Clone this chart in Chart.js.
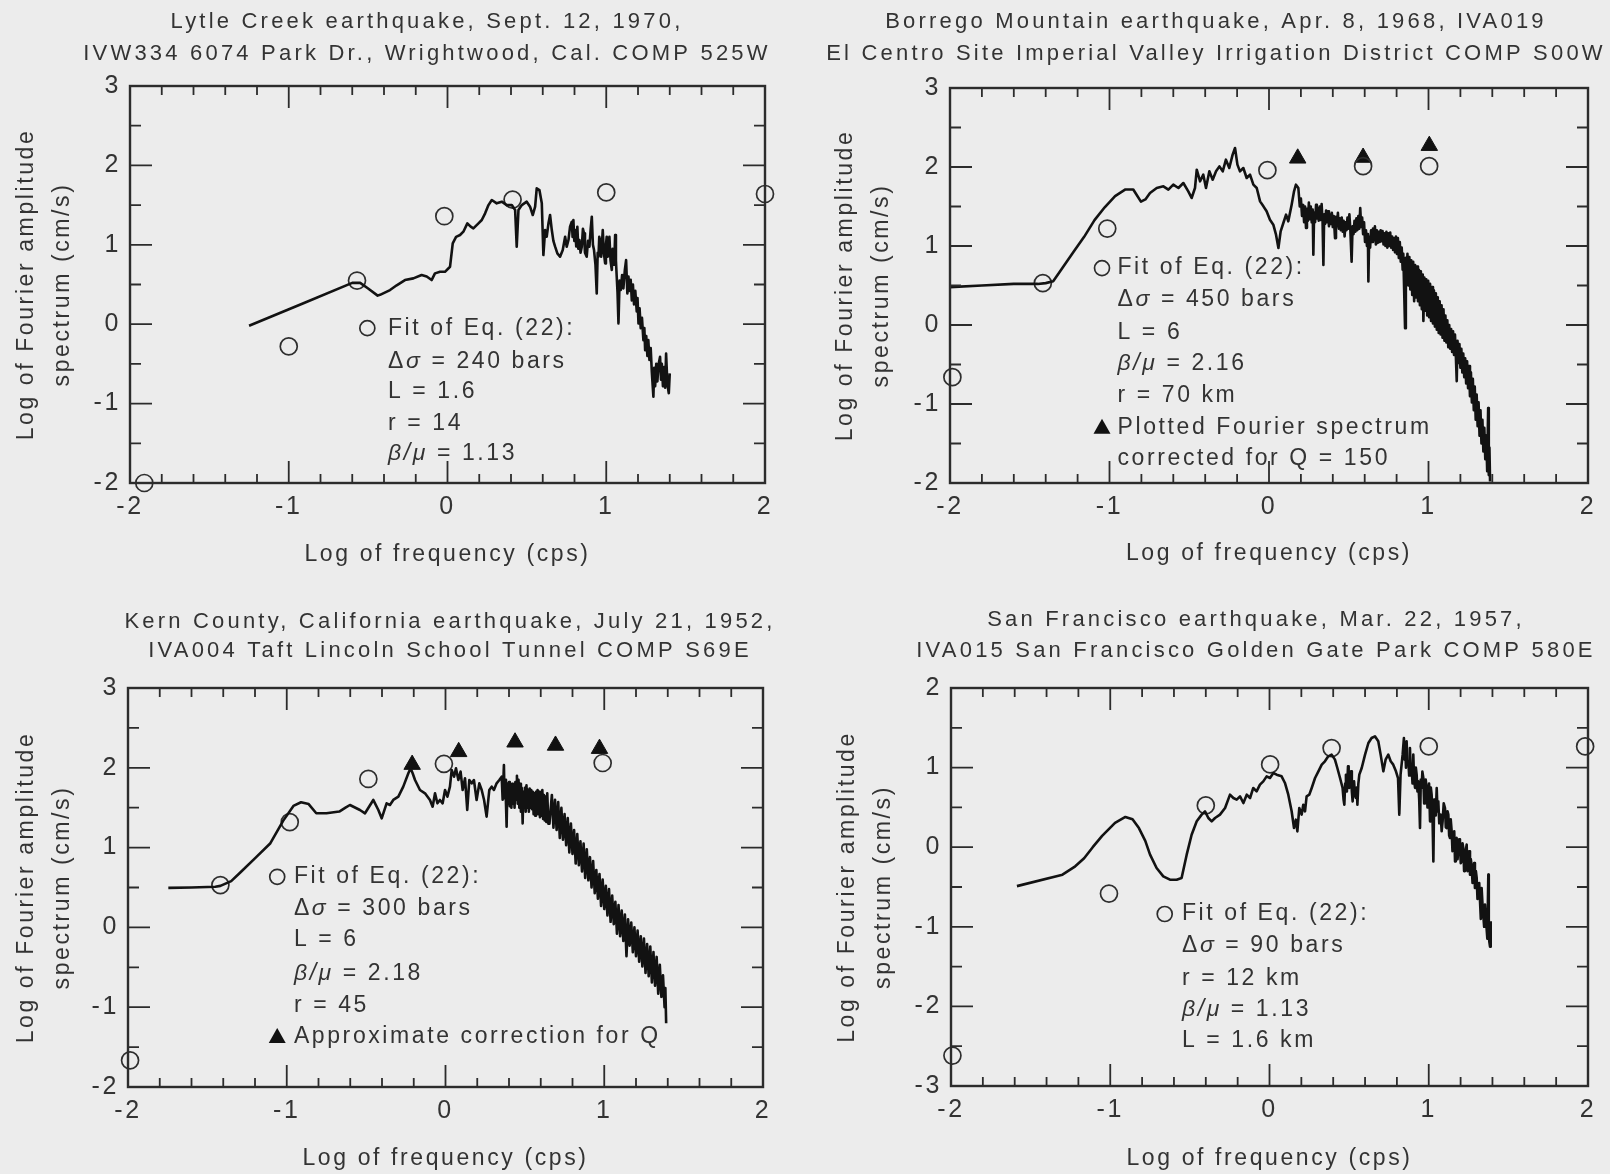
<!DOCTYPE html>
<html>
<head>
<meta charset="utf-8">
<script src="https://cdn.jsdelivr.net/npm/chart.js@4.4.0/dist/chart.umd.min.js"></script>
<style>
  html, body { margin: 0; padding: 0; background: #ececec; }
  #sheet { position: relative; width: 1610px; height: 1174px; overflow: hidden; }
  #sheet canvas { position: absolute; }
</style>
</head>
<body>
<div id="sheet">
  <canvas id="lytle" width="805" height="587" style="left:0;top:0"></canvas>
  <canvas id="borrego" width="805" height="587" style="left:805px;top:0"></canvas>
  <canvas id="kern" width="805" height="587" style="left:0;top:587px"></canvas>
  <canvas id="sanFrancisco" width="805" height="587" style="left:805px;top:587px"></canvas>
</div>
<script>
// log frequency (cps) vs log Fourier amplitude (cm/s)
const freqTicks = [-2, 2];

// --- Lytle Creek 1970 ---
const lytleSpectrum = [
  [-1.25,-0.02],[-0.9,0.27],[-0.6,0.52],[-0.55,0.52],[-0.5,0.45],[-0.44,0.36],
  [-0.425,0.37],[-0.362,0.43],[-0.32,0.49],[-0.268,0.556],[-0.215,0.577],[-0.163,0.62],[-0.131,0.6],[-0.1,0.556],
  [-0.079,0.64],[-0.047,0.66],[-0.016,0.66],[0.016,0.724],[0.033,1.018],[0.054,1.1],[0.079,1.123],[0.1,1.165],
  [0.125,1.27],[0.146,1.228],[0.163,1.207],[0.195,1.27],[0.216,1.312],[0.237,1.396],[0.258,1.5],[0.279,1.564],
  [0.31,1.522],[0.342,1.543],[0.373,1.5],[0.405,1.5],[0.426,1.438],[0.436,0.976],[0.447,1.438],[0.468,1.5],
  [0.499,1.543],[0.52,1.48],[0.537,1.375],[0.552,1.48],[0.562,1.711],[0.579,1.69],[0.594,1.522],[0.604,0.871],
  [0.615,1.186],[0.625,1.102],[0.636,1.27],[0.646,1.375],[0.657,1.186],[0.667,1.05],[0.678,0.976],[0.692,0.892],
  [0.709,0.85],[0.726,0.934],[0.741,1.102],[0.751,0.976],[0.762,1.06],[0.772,1.228],[0.783,1.29],[0.788,1.1],
  [0.793,1.312],[0.799,1.05],[0.804,1.186],[0.811,0.98],[0.818,1.228],[0.824,0.95],[0.831,1.06],[0.838,0.9],
  [0.846,0.976],[0.853,1.2],[0.86,1.144],[0.866,0.9],[0.877,0.85],[0.885,1.05],[0.894,0.976],[0.902,1.2],
  [0.909,1.354],[0.916,1.0],[0.923,0.934],[0.932,0.75],[0.94,0.388],[0.946,0.9],[0.951,0.85],[0.956,1.1],
  [0.961,1.06],[0.968,0.85],[0.978,1.186],[0.985,0.9],[0.993,0.766],[0.998,1.0],[1.003,1.102],[1.01,0.85],
  [1.02,1.102],[1.027,0.8],[1.035,0.682],[1.04,0.95],[1.045,0.934],[1.05,0.75],[1.056,1.123],[1.061,0.8],
  [1.066,0.598],[1.071,0.4],[1.077,0.01],[1.084,0.55],[1.091,0.43],[1.1,0.62],[1.108,0.45],[1.117,0.68],
  [1.125,0.808],[1.133,0.388],[1.14,0.6],[1.146,0.42],[1.154,0.56],[1.161,0.3],[1.168,0.5],[1.175,0.25],
  [1.183,0.42],[1.192,0.16],[1.197,0.33],[1.203,0.01],[1.21,0.2],[1.217,-0.05],[1.225,0.08],[1.234,-0.2],
  [1.24,-0.05],[1.245,-0.326],[1.252,-0.15],[1.259,-0.4],[1.265,-0.2],[1.272,-0.45],[1.28,-0.3],[1.287,-0.6],
  [1.297,-0.914],[1.302,-0.55],[1.308,-0.78],[1.315,-0.5],[1.322,-0.72],[1.33,-0.5],[1.339,-0.41],[1.345,-0.7],
  [1.35,-0.5],[1.357,-0.78],[1.364,-0.54],[1.371,-0.8],[1.377,-0.37],[1.385,-0.75],[1.394,-0.87],[1.4,-0.62]
];
const lytleFit = [[-1.91,-2.0],[-1.0,-0.28],[-0.57,0.55],[-0.02,1.36],[0.41,1.57],[1.0,1.66],[2.0,1.64]];

// --- Borrego Mountain 1968 ---
const borregoSpectrum = [
  [-2.0,0.48],[-1.8,0.5],[-1.6,0.52],[-1.45,0.52],[-1.4,0.53],[-1.353,0.554],[-1.289,0.74],[-1.224,0.929],
  [-1.159,1.116],[-1.094,1.327],[-1.03,1.49],[-0.965,1.632],[-0.9,1.716],[-0.851,1.716],[-0.803,1.561],[-0.775,1.59],
  [-0.746,1.671],[-0.704,1.734],[-0.662,1.755],[-0.631,1.713],[-0.6,1.776],[-0.568,1.734],[-0.537,1.797],[-0.506,1.692],
  [-0.485,1.608],[-0.464,1.734],[-0.453,1.966],[-0.432,1.819],[-0.412,1.903],[-0.395,1.734],[-0.374,1.945],[-0.353,1.84],
  [-0.332,1.945],[-0.311,2.008],[-0.29,1.945],[-0.27,2.093],[-0.249,1.987],[-0.228,2.156],[-0.213,2.24],[-0.198,2.03],
  [-0.182,1.945],[-0.161,1.987],[-0.14,1.861],[-0.119,1.903],[-0.098,1.776],[-0.077,1.734],[-0.056,1.565],[-0.035,1.502],
  [-0.015,1.439],[0.006,1.333],[0.027,1.27],[0.044,1.143],[0.059,0.975],[0.073,1.186],[0.09,1.291],[0.107,1.397],
  [0.121,1.312],[0.142,1.523],[0.157,1.692],[0.169,1.776],[0.184,1.734],[0.193,1.5],
  [0.2,1.6],[0.207,1.38],[0.214,1.52],[0.22,1.3],[0.226,1.5],[0.232,1.23],[0.238,1.47],[0.244,1.32],
  [0.25,1.55],[0.256,1.34],[0.262,1.5],[0.268,1.3],[0.274,1.46],[0.278,0.89],[0.283,1.42],[0.289,1.3],
  [0.295,1.52],[0.3,1.35],[0.306,1.48],[0.312,1.32],[0.318,1.5],[0.324,1.33],[0.33,1.53],[0.336,1.3],
  [0.341,0.76],[0.346,1.4],[0.352,1.28],[0.358,1.45],[0.364,1.3],[0.37,1.44],[0.376,1.25],[0.382,1.4],
  [0.388,1.28],[0.394,1.42],[0.4,1.24],[0.406,1.38],[0.414,1.1],[0.42,1.37],[0.426,1.25],[0.432,1.42],
  [0.438,1.22],[0.444,1.35],[0.45,1.2],[0.456,1.36],[0.462,1.18],[0.468,1.32],[0.474,1.12],[0.48,1.3],
  [0.486,1.2],[0.492,1.36],[0.498,1.22],[0.504,1.4],[0.51,1.2],[0.518,0.8],[0.524,1.25],[0.53,1.15],
  [0.536,1.32],[0.542,1.18],[0.548,1.35],[0.554,1.2],[0.56,1.38],[0.566,1.22],[0.572,1.48],[0.578,1.24],
  [0.584,1.36],[0.59,1.15],[0.596,1.3],[0.602,1.05],[0.608,1.2],[0.614,1.0],[0.62,1.15],[0.623,0.55],
  [0.628,1.12],[0.634,0.98],[0.64,1.2],[0.646,1.05],[0.652,1.22],[0.658,1.08],[0.664,1.25],[0.67,1.02],
  [0.676,1.2],[0.682,1.04],[0.688,1.18],[0.694,1.05],[0.7,1.2],[0.706,1.06],[0.712,1.19],[0.718,1.02],
  [0.724,1.16],[0.73,1.0],[0.736,1.18],[0.742,0.98],[0.748,1.16],[0.754,1.0],[0.76,1.17],[0.766,0.98],
  [0.772,1.12],[0.778,0.95],[0.784,1.1],[0.79,0.92],[0.796,1.12],[0.802,0.9],
  [0.808,1.1],[0.814,0.85],[0.82,1.05],[0.826,0.8],[0.832,0.98],[0.838,0.7],[0.842,0.9],[0.847,0.47],
  [0.853,-0.04],[0.858,0.85],[0.863,0.6],[0.868,0.9],[0.874,0.5],[0.88,0.86],[0.886,0.45],[0.892,0.82],
  [0.898,0.38],[0.904,0.8],[0.91,0.3],[0.916,0.76],[0.922,0.35],[0.928,0.74],[0.934,0.3],[0.94,0.7],
  [0.946,0.25],[0.952,0.68],[0.958,0.2],[0.964,0.64],[0.968,0.05],[0.974,0.6],[0.98,0.18],[0.986,0.58],
  [0.992,0.12],[0.998,0.56],[1.004,0.1],[1.01,0.52],[1.016,0.05],[1.022,0.48],[1.028,0.02],[1.034,0.44],
  [1.04,-0.02],[1.046,0.4],[1.052,-0.06],[1.058,0.35],[1.064,-0.1],[1.07,0.3],[1.076,-0.12],[1.082,0.25],
  [1.088,-0.16],[1.094,0.2],[1.1,-0.2],[1.106,0.12],[1.112,-0.22],[1.118,0.06],[1.124,-0.28],[1.13,0.0],
  [1.136,-0.3],[1.142,-0.05],[1.148,-0.34],[1.154,-0.08],[1.16,-0.38],[1.166,-0.12],[1.172,-0.42],[1.177,-0.71],
  [1.182,-0.2],[1.188,-0.48],[1.194,-0.24],[1.2,-0.54],[1.206,-0.3],[1.212,-0.6],[1.218,-0.36],[1.224,-0.66],
  [1.23,-0.42],[1.236,-0.74],[1.242,-0.46],[1.248,-0.8],[1.254,-0.52],[1.26,-0.9],[1.266,-0.6],[1.272,-0.98],
  [1.278,-0.68],[1.284,-1.08],[1.29,-0.78],[1.296,-1.2],[1.302,-0.88],[1.308,-1.28],[1.314,-0.98],[1.32,-1.4],
  [1.326,-1.08],[1.332,-1.5],[1.338,-1.2],[1.344,-1.6],[1.35,-1.3],[1.356,-1.7],[1.362,-1.4],[1.368,-1.85],
  [1.374,-1.05],[1.378,-1.9],[1.382,-1.55],[1.386,-1.98]
];
const borregoFit = [[-1.985,-0.66],[-1.418,0.53],[-1.014,1.22],[-0.01,1.96],[0.59,2.01],[1.004,2.01]];
const borregoCorrected = [[0.18,2.11],[0.59,2.12],[1.005,2.27]];

// --- Kern County 1952 ---
const kernSpectrum = [
  [-1.746,0.495],[-1.6,0.5],[-1.45,0.51],[-1.418,0.52],[-1.35,0.58],[-1.296,0.682],[-1.199,0.868],[-1.103,1.055],
  [-1.023,1.335],[-0.958,1.522],[-0.91,1.568],[-0.862,1.545],[-0.814,1.43],[-0.75,1.43],[-0.669,1.452],[-0.63,1.5],
  [-0.602,1.534],[-0.539,1.471],[-0.507,1.43],[-0.455,1.597],[-0.423,1.471],[-0.402,1.367],[-0.371,1.555],[-0.35,1.534],
  [-0.329,1.597],[-0.297,1.638],[-0.266,1.764],[-0.234,1.931],[-0.22,1.993],[-0.207,1.931],[-0.192,1.847],[-0.161,1.722],
  [-0.129,1.68],[-0.098,1.597],[-0.081,1.513],[-0.066,1.68],[-0.051,1.555],[-0.035,1.597],[-0.018,1.555],[-0.003,1.722],
  [0.012,1.638],[0.028,1.764],[0.039,1.973],[0.054,1.889],[0.066,1.993],[0.081,1.847],[0.095,1.952],[0.108,1.722],
  [0.123,1.868],[0.137,1.471],[0.15,1.847],[0.165,1.805],[0.179,1.847],[0.196,1.597],[0.213,1.805],[0.228,1.722],
  [0.243,1.597],[0.259,1.388],[0.276,1.722],[0.291,1.764],[0.305,1.722],[0.322,1.805],[0.339,1.847],
  [0.354,1.889],[0.36,1.6],[0.368,2.035],[0.372,1.62],[0.377,1.85],[0.381,1.55],[0.385,1.262],[0.39,1.8],
  [0.395,1.55],[0.4,1.82],[0.405,1.52],[0.41,1.78],[0.415,1.5],[0.42,1.8],[0.425,1.55],[0.43,1.75],
  [0.435,1.5],[0.44,1.82],[0.445,1.6],[0.45,1.9],[0.455,1.55],[0.46,1.85],[0.465,1.5],[0.47,1.8],
  [0.475,1.45],[0.48,1.75],[0.486,1.304],[0.49,1.7],[0.495,1.5],[0.5,1.75],[0.505,1.45],[0.51,1.78],
  [0.515,1.5],[0.52,1.72],[0.525,1.45],[0.53,1.74],[0.535,1.5],[0.54,1.72],[0.545,1.48],[0.55,1.7],
  [0.555,1.42],[0.56,1.68],[0.565,1.4],[0.57,1.7],[0.575,1.45],[0.58,1.72],[0.585,1.42],[0.59,1.7],
  [0.595,1.38],[0.6,1.68],[0.605,1.4],[0.61,1.72],[0.615,1.36],[0.62,1.66],[0.625,1.34],[0.63,1.64],
  [0.635,1.32],[0.641,1.68],[0.648,1.3],
  [0.655,1.3],[0.67,1.66],[0.68,1.25],[0.69,1.6],[0.7,1.22],[0.71,1.57],[0.72,1.12],[0.73,1.5],
  [0.74,1.1],[0.75,1.42],[0.76,1.03],[0.77,1.37],[0.78,0.94],[0.79,1.3],[0.8,0.92],[0.81,1.22],
  [0.82,0.8],[0.83,1.17],[0.84,0.78],[0.85,1.08],[0.86,0.7],[0.87,1.05],[0.88,0.62],[0.89,0.98],
  [0.9,0.59],[0.91,0.88],[0.92,0.5],[0.93,0.83],[0.94,0.43],[0.95,0.72],[0.96,0.36],[0.97,0.67],
  [0.98,0.27],[0.99,0.6],[1.0,0.23],[1.01,0.52],[1.02,0.15],[1.03,0.48],[1.04,0.07],[1.05,0.4],
  [1.06,0.04],[1.07,0.32],[1.08,-0.08],[1.09,0.28],[1.1,-0.11],[1.11,0.21],[1.12,-0.17],[1.13,0.16],
  [1.14,-0.36],[1.15,0.1],[1.16,-0.23],[1.17,0.06],[1.18,-0.31],[1.19,0.0],[1.2,-0.36],[1.21,-0.04],
  [1.22,-0.43],[1.23,-0.11],[1.24,-0.49],[1.25,-0.14],[1.26,-0.57],[1.27,-0.21],[1.28,-0.61],[1.29,-0.24],
  [1.3,-0.69],[1.31,-0.31],[1.32,-0.73],[1.33,-0.37],[1.34,-0.83],[1.35,-0.47],[1.36,-0.87],[1.37,-0.6],
  [1.38,-1.0],[1.385,-0.76],[1.39,-1.2]
];
const kernFit = [[-1.987,-1.666],[-1.418,0.53],[-0.981,1.32],[-0.486,1.86],[-0.01,2.05],[0.99,2.06]];
const kernCorrected = [[-0.21,2.04],[0.083,2.2],[0.438,2.32],[0.693,2.28],[0.97,2.24]];

// --- San Francisco 1957 ---
const sanFranciscoSpectrum = [
  [-1.586,-0.489],[-1.3,-0.345],[-1.22,-0.24],[-1.164,-0.138],[-1.11,0.0],[-1.051,0.143],[-0.97,0.306],[-0.905,0.38],
  [-0.86,0.35],[-0.82,0.24],[-0.78,0.08],[-0.75,-0.094],[-0.709,-0.261],[-0.667,-0.366],[-0.625,-0.408],[-0.583,-0.408],
  [-0.552,-0.387],[-0.52,-0.094],[-0.489,0.157],[-0.457,0.325],[-0.426,0.409],[-0.405,0.451],[-0.384,0.367],[-0.363,0.325],
  [-0.342,0.367],[-0.311,0.409],[-0.279,0.492],[-0.248,0.66],[-0.227,0.618],[-0.206,0.597],[-0.185,0.639],[-0.164,0.555],
  [-0.143,0.66],[-0.122,0.618],[-0.102,0.744],[-0.081,0.702],[-0.06,0.786],[-0.039,0.827],[-0.018,0.89],[0.003,0.869],
  [0.024,0.932],[0.045,0.911],[0.076,0.89],[0.097,0.807],[0.118,0.66],[0.139,0.451],[0.154,0.241],[0.166,0.346],
  [0.175,0.199],[0.187,0.492],[0.202,0.409],[0.212,0.534],[0.223,0.451],[0.233,0.639],[0.25,0.66],[0.265,0.744],
  [0.286,0.869],[0.307,0.953],[0.328,1.037],[0.348,1.079],[0.369,1.142],[0.39,1.163],[0.411,1.1],[0.426,0.995],
  [0.443,0.869],[0.459,0.744],[0.465,0.6],[0.47,0.534],[0.475,0.8],[0.48,0.911],[0.486,0.7],[0.493,1.016],
  [0.497,0.8],[0.501,0.744],[0.506,0.9],[0.512,0.953],[0.517,0.7],[0.522,0.576],[0.527,0.75],[0.531,0.827],
  [0.537,0.65],[0.543,0.618],[0.548,0.75],[0.552,0.534],[0.558,0.8],[0.564,0.911],[0.579,0.995],[0.6,1.163],
  [0.621,1.309],[0.641,1.372],[0.662,1.393],[0.683,1.33],[0.698,1.163],[0.715,0.953],[0.729,1.1],[0.746,1.163],
  [0.761,1.079],[0.777,1.037],[0.794,0.953],[0.807,0.869],[0.815,0.409],[0.823,0.911],[0.836,1.163],[0.844,1.372],
  [0.849,1.1],[0.853,1.204],[0.857,1.0],[0.861,1.33],[0.866,1.05],[0.872,1.079],[0.877,0.9],[0.882,1.246],
  [0.887,0.95],[0.893,0.995],[0.898,0.8],[0.903,1.163],[0.908,0.85],[0.914,0.744],[0.919,1.0],[0.924,0.911],
  [0.929,0.7],[0.934,0.827],[0.94,0.6],[0.945,0.241],[0.95,0.85],[0.955,0.744],[0.96,0.95],[0.966,0.869],
  [0.971,0.55],[0.976,0.618],[0.981,0.85],[0.987,0.744],[0.992,0.5],[0.997,0.66],[1.002,0.8],[1.008,0.325],
  [1.013,0.75],[1.018,0.66],[1.023,0.45],[1.029,-0.178],[1.034,0.6],[1.039,0.576],[1.044,0.4],[1.05,0.744],
  [1.055,0.45],[1.06,0.576],[1.066,0.3],[1.075,0.409],[1.081,0.2],[1.087,0.325],[1.094,0.55],[1.102,0.492],
  [1.107,0.25],[1.112,0.241],[1.118,0.45],[1.123,0.409],[1.128,0.15],[1.133,0.116],[1.138,0.35],[1.144,0.199],
  [1.149,-0.05],[1.154,0.032],[1.16,0.2],[1.165,-0.178],[1.17,0.1],[1.175,0.116],[1.181,-0.15],[1.186,-0.01],
  [1.191,0.1],[1.196,0.032],[1.201,-0.2],[1.206,-0.178],[1.212,0.05],[1.217,-0.01],[1.222,-0.3],[1.227,-0.261],
  [1.232,-0.05],[1.238,0.032],[1.243,-0.3],[1.248,-0.178],[1.254,-0.05],[1.259,-0.345],[1.264,-0.15],[1.269,-0.219],
  [1.275,-0.45],[1.28,-0.345],[1.285,-0.2],[1.29,-0.513],[1.296,-0.3],[1.301,-0.387],[1.306,-0.65],[1.311,-0.596],
  [1.317,-0.45],[1.322,-0.68],[1.327,-0.9],[1.332,-0.513],[1.337,-0.7],[1.342,-0.848],[1.348,-1.0],[1.353,-0.722],
  [1.358,-0.9],[1.363,-1.015],[1.368,-1.15],[1.374,-0.345],[1.377,-0.9],[1.38,-1.183],[1.385,-1.25],[1.389,-0.931]
];
const sanFranciscoFit = [[-1.991,-2.618],[-1.008,-0.583],[-0.4,0.525],[0.004,1.04],[0.39,1.245],[1.0,1.266],[1.982,1.266]];

const FONT = '"Liberation Sans", Arial, sans-serif';
const INK = '#333333';

Chart.defaults.font.family = FONT;
Chart.defaults.color = INK;

// frame with inward ticks on all four sides, titles and the fit notes
const sheetPlugin = {
  id: 'sheet',
  beforeLayout(chart) { chart.ctx.letterSpacing = '2.6px'; },
  beforeDraw(chart) { chart.ctx.letterSpacing = '2.6px'; },
  afterDraw(chart, args, opts) {
    const { ctx, chartArea: a, scales: { x, y } } = chart;
    ctx.save();
    ctx.strokeStyle = '#2c2c2c';
    ctx.lineWidth = 1.8;
    ctx.beginPath();
    const nx = Math.round((x.max - x.min) / 0.2);
    for (let i = 0; i <= nx; i++) {
      const px = x.getPixelForValue(x.min + i * 0.2);
      const len = i % 5 === 0 ? 22 : 9;
      ctx.moveTo(px, a.bottom); ctx.lineTo(px, a.bottom - len);
      ctx.moveTo(px, a.top); ctx.lineTo(px, a.top + len);
    }
    const ny = Math.round((y.max - y.min) / 0.5);
    for (let i = 0; i <= ny; i++) {
      const py = y.getPixelForValue(y.min + i * 0.5);
      const len = i % 2 === 0 ? 22 : 11;
      ctx.moveTo(a.left, py); ctx.lineTo(a.left + len, py);
      ctx.moveTo(a.right, py); ctx.lineTo(a.right - len, py);
    }
    ctx.stroke();
    ctx.lineWidth = 2.4;
    ctx.strokeRect(a.left, a.top, a.right - a.left, a.bottom - a.top);

    // two-line heading
    ctx.fillStyle = INK;
    ctx.textAlign = 'center';
    ctx.textBaseline = 'middle';
    ctx.letterSpacing = '3.2px';
    ctx.font = '22px ' + FONT;
    opts.title.forEach((t, i) => ctx.fillText(t, opts.titleX, opts.titleY[i]));

    // notes block; *...* marks italic runs
    ctx.textAlign = 'left';
    ctx.letterSpacing = '2.6px';
    const tx = x.getPixelForValue(opts.noteX);
    const mx = x.getPixelForValue(opts.markerX);
    opts.notes.forEach(n => {
      const py = y.getPixelForValue(n.y);
      let cx = tx;
      n.text.split('*').forEach((part, k) => {
        if (!part) return;
        ctx.font = (k % 2 ? 'italic ' : '') + '23px ' + FONT;
        ctx.fillText(part, cx, py);
        cx += ctx.measureText(part).width;
      });
      if (n.marker === 'circle') {
        ctx.beginPath();
        ctx.lineWidth = 1.7;
        ctx.arc(mx, py, 7.5, 0, Math.PI * 2);
        ctx.stroke();
      } else if (n.marker === 'triangle') {
        ctx.beginPath();
        ctx.fillStyle = '#111';
        ctx.moveTo(mx, py - 9);
        ctx.lineTo(mx + 8.5, py + 6);
        ctx.lineTo(mx - 8.5, py + 6);
        ctx.closePath();
        ctx.fill();
        ctx.fillStyle = INK;
      }
    });
    ctx.restore();
  }
};
Chart.register(sheetPlugin);

const pts = arr => arr.map(([x, y]) => ({ x, y }));

function panel(id, cfg) {
  const datasets = [
    { type: 'line', data: pts(cfg.spectrum), borderColor: '#121212', borderWidth: 2.6,
      borderJoinStyle: 'round', pointRadius: 0, tension: 0, fill: false },
    { data: pts(cfg.fit), pointStyle: 'circle', pointRadius: 8.5, borderWidth: 1.7,
      borderColor: '#2e2e2e', backgroundColor: 'rgba(0,0,0,0)', clip: false }
  ];
  if (cfg.corrected) {
    datasets.push({ data: pts(cfg.corrected), pointStyle: 'triangle', pointRadius: 9.5, borderWidth: 1,
      borderColor: '#111', backgroundColor: '#111', clip: false });
  }
  return new Chart(document.getElementById(id), {
    type: 'scatter',
    data: { datasets },
    options: {
      responsive: false,
      animation: false,
      events: [],
      layout: { autoPadding: false, padding: { left: 0, right: cfg.box.right, top: cfg.box.top, bottom: 0 } },
      plugins: {
        legend: { display: false },
        tooltip: { enabled: false },
        sheet: { title: cfg.title, titleX: cfg.titleX, titleY: cfg.titleY,
                 noteX: cfg.noteX, markerX: cfg.markerX, notes: cfg.notes }
      },
      scales: {
        x: {
          type: 'linear', min: freqTicks[0], max: freqTicks[1],
          grid: { display: false, drawTicks: false }, border: { display: false },
          ticks: { stepSize: 1, padding: 9, font: { size: 25 }, maxRotation: 0 },
          title: { display: true, text: 'Log of frequency (cps)', font: { size: 23 },
                   padding: { top: 0, bottom: cfg.xTitlePad } },
          afterFit: s => { s.height = cfg.box.bottom; }
        },
        y: {
          type: 'linear', min: cfg.yRange[0], max: cfg.yRange[1],
          grid: { display: false, drawTicks: false }, border: { display: false },
          ticks: { stepSize: 1, padding: 9, font: { size: 25 } },
          title: { display: true, text: ['Log of Fourier amplitude', 'spectrum (cm/s)'],
                   font: { size: 23, lineHeight: 1.58 }, padding: { top: cfg.yTitlePad, bottom: 0 } },
          afterFit: s => { s.width = cfg.box.left; }
        }
      }
    }
  });
}

panel('lytle', {
  spectrum: lytleSpectrum, fit: lytleFit, yRange: [-2, 3],
  box: { left: 130, right: 40, top: 86, bottom: 104 }, xTitlePad: 19, yTitlePad: 8,
  title: ['Lytle Creek earthquake, Sept. 12, 1970,', 'IVW334 6074 Park Dr., Wrightwood, Cal. COMP 525W'],
  titleX: 427, titleY: [22, 54],
  noteX: -0.375, markerX: -0.505,
  notes: [
    { y: -0.05, text: 'Fit of Eq. (22):', marker: 'circle' },
    { y: -0.47, text: 'Δ*σ* = 240 bars' },
    { y: -0.85, text: 'L = 1.6' },
    { y: -1.25, text: 'r = 14' },
    { y: -1.63, text: '*β/μ* = 1.13' }
  ]
});

panel('borrego', {
  spectrum: borregoSpectrum, fit: borregoFit, corrected: borregoCorrected, yRange: [-2, 3],
  box: { left: 145, right: 22, top: 88, bottom: 104 }, xTitlePad: 20, yTitlePad: 22,
  title: ['Borrego Mountain earthquake, Apr. 8, 1968, IVA019', 'El Centro Site Imperial Valley Irrigation District COMP S00W'],
  titleX: 411, titleY: [22, 54],
  noteX: -0.95, markerX: -1.047,
  notes: [
    { y: 0.72, text: 'Fit of Eq. (22):', marker: 'circle' },
    { y: 0.32, text: 'Δ*σ* = 450 bars' },
    { y: -0.1, text: 'L = 6' },
    { y: -0.49, text: '*β/μ* = 2.16' },
    { y: -0.9, text: 'r = 70 km' },
    { y: -1.3, text: 'Plotted Fourier spectrum', marker: 'triangle' },
    { y: -1.69, text: 'corrected for Q = 150' }
  ]
});

panel('kern', {
  spectrum: kernSpectrum, fit: kernFit, corrected: kernCorrected, yRange: [-2, 3],
  box: { left: 128, right: 42, top: 101, bottom: 87 }, xTitlePad: 2, yTitlePad: 8,
  title: ['Kern County, California earthquake, July 21, 1952,', 'IVA004 Taft Lincoln School Tunnel COMP S69E'],
  titleX: 450, titleY: [35, 64],
  noteX: -0.955, markerX: -1.06,
  notes: [
    { y: 0.634, text: 'Fit of Eq. (22):', marker: 'circle' },
    { y: 0.238, text: 'Δ*σ* = 300 bars' },
    { y: -0.159, text: 'L = 6' },
    { y: -0.579, text: '*β/μ* = 2.18' },
    { y: -0.976, text: 'r = 45' },
    { y: -1.372, text: 'Approximate correction for Q', marker: 'triangle' }
  ]
});

panel('sanFrancisco', {
  spectrum: sanFranciscoSpectrum, fit: sanFranciscoFit, yRange: [-3, 2],
  box: { left: 146, right: 22, top: 101, bottom: 88 }, xTitlePad: 2, yTitlePad: 24,
  title: ['San Francisco earthquake, Mar. 22, 1957,', 'IVA015 San Francisco Golden Gate Park COMP 580E'],
  titleX: 451, titleY: [33, 64],
  noteX: -0.55, markerX: -0.658,
  notes: [
    { y: -0.839, text: 'Fit of Eq. (22):', marker: 'circle' },
    { y: -1.232, text: 'Δ*σ* = 90 bars' },
    { y: -1.65, text: 'r = 12 km' },
    { y: -2.037, text: '*β/μ* = 1.13' },
    { y: -2.43, text: 'L = 1.6 km' }
  ]
});
</script>
</body>
</html>
